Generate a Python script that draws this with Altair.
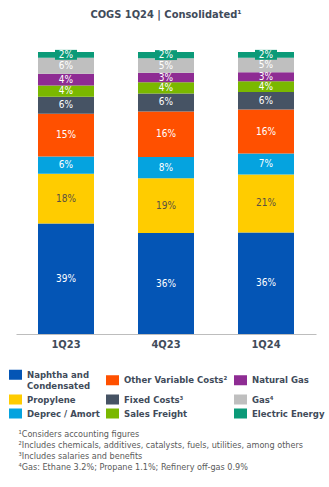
import altair as alt
import pandas as pd

quarters = ["1Q23", "4Q23", "1Q24"]
categories = [
    "Naphtha and Condensated", "Propylene", "Deprec / Amort",
    "Other Variable Costs²", "Fixed Costs³", "Sales Freight",
    "Natural Gas", "Gas⁴", "Electric Energy",
]
colors = ["#0455B5", "#FFCC00", "#05A3DF", "#FF5000", "#465364",
          "#7AB800", "#8E2C93", "#BFBFBF", "#0B9A78"]
# shares (%) per quarter, in stacking order bottom -> top
v_1q23 = [39.2, 17.6, 6.1, 15.2, 6.0, 4.0, 4.2, 5.7, 2.0]
v_4q23 = [35.8, 19.4, 7.6, 16.1, 6.4, 4.0, 3.3, 5.2, 2.2]
v_1q24 = [36.0, 20.6, 7.4, 15.6, 6.2, 3.8, 3.2, 5.2, 2.0]
footnotes = [
    "¹Considers accounting figures",
    "²Includes chemicals, additives, catalysts, fuels, utilities, among others",
    "³Includes salaries and benefits",
    "⁴Gas: Ethane 3.2%; Propane 1.1%; Refinery off-gas 0.9%",
]

rows = []
for q, vals in zip(quarters, [v_1q23, v_4q23, v_1q24]):
    for i, (c, v) in enumerate(zip(categories, vals)):
        rows.append({"quarter": q, "cat": c, "value": v, "order": i})
df = pd.DataFrame(rows)

FONT = "DejaVu Sans Condensed, DejaVu Sans"
DARK = "#414b5a"

base = alt.Chart(df).transform_stack(
    stack="value", groupby=["quarter"], sort=[{"field": "order"}], as_=["y0", "y1"]
).transform_calculate(
    mid="(datum.y0 + datum.y1) / 2",
    label="format(datum.value, '.0f') + '%'",
)

xenc = alt.X(
    "quarter:N", sort=quarters,
    scale=alt.Scale(paddingInner=0.44, paddingOuter=0.22),
    axis=alt.Axis(
        title=footnotes, titleFont=FONT, titleFontSize=9, titleFontWeight="normal",
        titleColor="#5a5a5a", titleAlign="left", titleAnchor="start", titleBaseline="top",
        titleX=2, titleY=95, titleLineHeight=11,
        labelFont=FONT, labelFontSize=11, labelFontWeight="bold", labelColor=DARK,
        labelPadding=4, domainColor="#bdbdbd", ticks=False, labelAngle=0,
    ),
)

bars = base.mark_bar().encode(
    x=xenc,
    y=alt.Y("y0:Q", scale=alt.Scale(domain=[0, 100]), axis=None),
    y2="y1:Q",
    color=alt.Color(
        "cat:N", scale=alt.Scale(domain=categories, range=colors),
        legend=alt.Legend(
            orient="none", legendX=-7, legendY=316, columns=3, title=None,
            symbolType="M-1,-0.77H1V0.77H-1Z", symbolSize=169, symbolStrokeWidth=0,
            symbolOpacity=1,
            labelFont=FONT, labelFontSize=9.5, labelFontWeight="bold", labelColor=DARK,
            labelLimit=200, labelOffset=5, columnPadding=6, rowPadding=2,
            labelExpr="datum.label == 'Naphtha and Condensated' ? ['Naphtha and', 'Condensated'] : datum.label",
        ),
    ),
)

boxes = base.transform_filter(alt.datum.cat == "Electric Energy").mark_point(
    shape="M-1,-0.45H1V0.45H-1Z", size=484, filled=True, opacity=1, color="#0B9A78"
).encode(x=xenc, y="mid:Q")

labels = base.mark_text(font=FONT, fontSize=10).encode(
    x=xenc,
    y="mid:Q",
    text="label:N",
    color=alt.condition(alt.datum.cat == "Propylene", alt.value("#5a5140"), alt.value("white")),
)

chart = alt.layer(bars, boxes, labels).properties(
    width=300, height=282,
    title=alt.TitleParams("COGS 1Q24 | Consolidated¹", font=FONT, fontSize=11,
                          fontWeight="bold", color=DARK, anchor="middle", offset=30),
    autosize=alt.AutoSizeParams(type="none"),
    padding={"left": 16, "top": 52, "right": 13, "bottom": 153},
).configure_view(stroke=None)

chart.save("out.html", embed_options={"renderer": "svg", "actions": False})
